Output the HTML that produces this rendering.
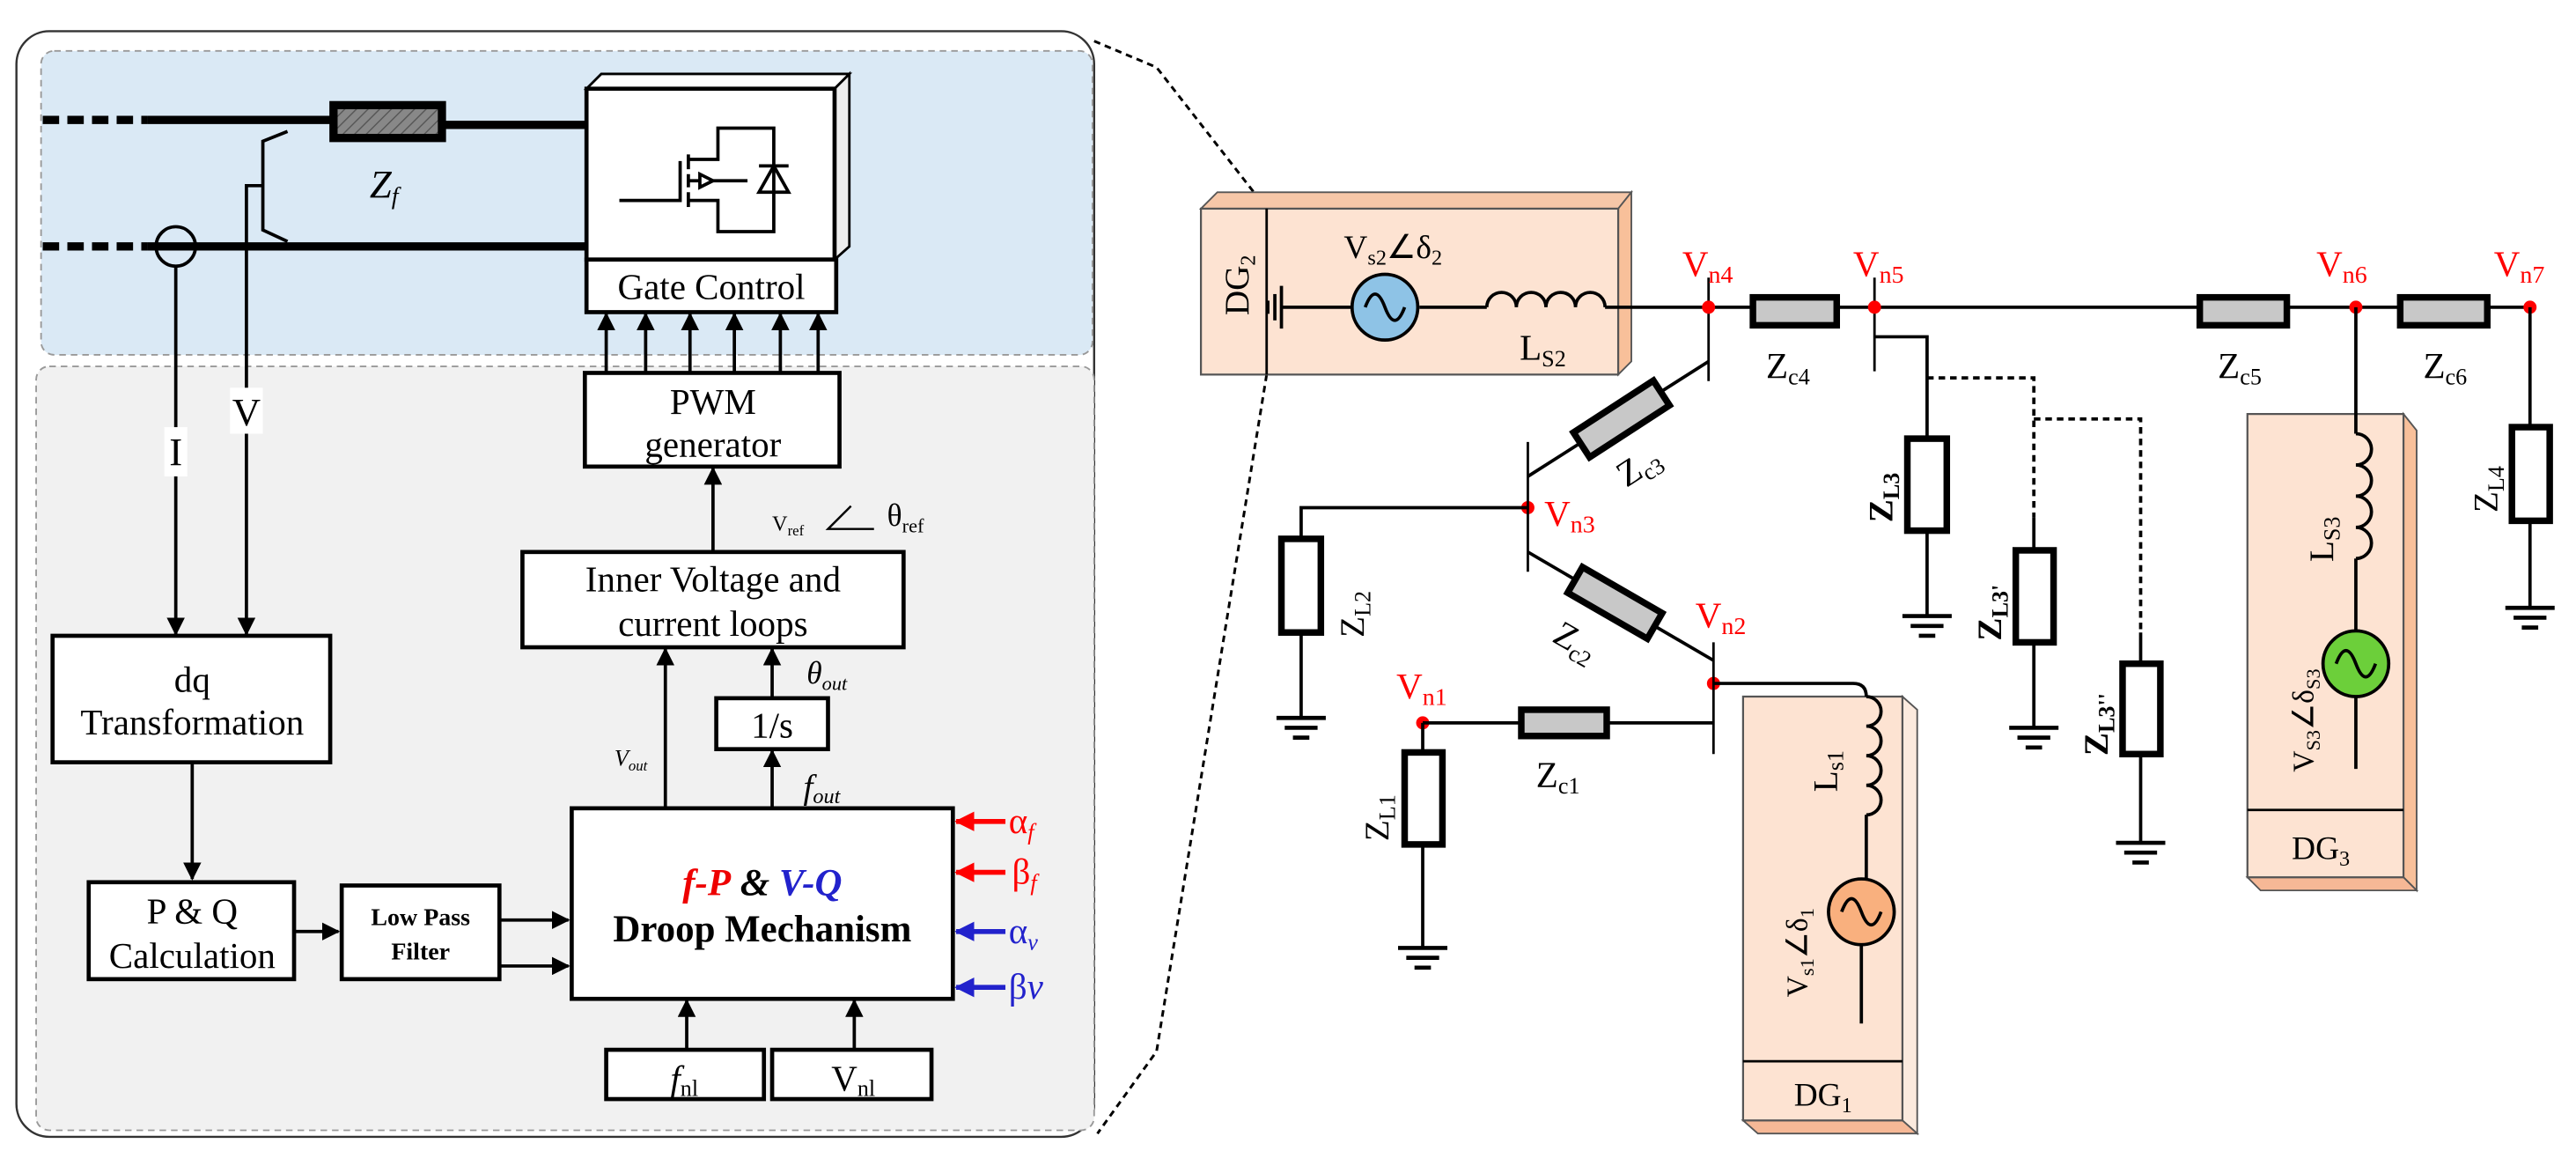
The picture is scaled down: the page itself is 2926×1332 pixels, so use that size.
<!DOCTYPE html>
<html><head><meta charset="utf-8"><style>
html,body{margin:0;padding:0;background:#fff}
svg{display:block}
text{font-family:"Liberation Serif",serif}
</style></head><body>
<svg width="2926" height="1332" viewBox="0 0 1568 714" preserveAspectRatio="none" xmlns="http://www.w3.org/2000/svg" font-family="Liberation Serif, serif">
<defs>
<marker id="ah" markerWidth="11" markerHeight="11" refX="10" refY="5.5" orient="auto" markerUnits="userSpaceOnUse"><path d="M0,0 L11,5.5 L0,11 z" fill="#000"/></marker>
<marker id="ar" markerWidth="12" markerHeight="12" refX="11" refY="6" orient="auto" markerUnits="userSpaceOnUse"><path d="M0,0 L12,6 L0,12 z" fill="#f00"/></marker>
<marker id="ab" markerWidth="12" markerHeight="12" refX="11" refY="6" orient="auto" markerUnits="userSpaceOnUse"><path d="M0,0 L12,6 L0,12 z" fill="#22c"/></marker>
<pattern id="hatch" width="5" height="5" patternUnits="userSpaceOnUse" patternTransform="rotate(45)"><rect width="5" height="5" fill="#888"/><line x1="0" y1="0" x2="0" y2="5" stroke="#555" stroke-width="1.5"/></pattern>
</defs>

<!-- LEFT PANEL -->
<rect x="10" y="19" width="656" height="673" rx="20" fill="#fff" stroke="#333" stroke-width="1.3"/>
<rect x="25" y="31" width="640" height="185" rx="8" fill="#dae9f5" stroke="#999" stroke-dasharray="4,3"/>
<rect x="22" y="223" width="644" height="465" rx="8" fill="#f1f1f1" stroke="#999" stroke-dasharray="4,3"/>

<g stroke="#000" stroke-width="5" fill="none">
<line x1="26" y1="73" x2="90" y2="73" stroke-dasharray="10,5"/>
<line x1="90" y1="73" x2="203" y2="73"/>
<line x1="270" y1="76" x2="357" y2="76"/>
<line x1="26" y1="150" x2="90" y2="150" stroke-dasharray="10,5"/>
<line x1="90" y1="150" x2="357" y2="150"/>
</g>
<rect x="203" y="64" width="66" height="20" fill="url(#hatch)" stroke="#000" stroke-width="5"/>
<text x="225" y="120" font-size="24" font-style="italic">Z<tspan font-size="15" dy="4">f</tspan></text>
<circle cx="107" cy="150" r="12" fill="none" stroke="#000" stroke-width="2"/>
<polyline points="175,80 160,86 160,140 175,147" fill="none" stroke="#000" stroke-width="2"/>
<polyline points="160,113 150,113 150,386" fill="none" stroke="#000" stroke-width="2" marker-end="url(#ah)"/>
<line x1="107" y1="162" x2="107" y2="386" stroke="#000" stroke-width="2" marker-end="url(#ah)"/>
<rect x="140" y="236" width="20" height="28" fill="#fff"/>
<text x="150" y="259" font-size="24" text-anchor="middle">V</text>
<rect x="100" y="260" width="14" height="30" fill="#fff"/>
<text x="107" y="283" font-size="24" text-anchor="middle">I</text>

<polygon points="357,54 366,45 517,45 508,54" fill="#fff" stroke="#000" stroke-width="1.5"/>
<polygon points="508,54 517,45 517,150 508,158" fill="#eee" stroke="#000" stroke-width="1.5"/>
<rect x="357" y="54" width="151" height="104" fill="#fff" stroke="#000" stroke-width="2.5"/>
<g stroke="#000" stroke-width="2" fill="none">
<polyline points="377,122 414,122 414,98"/>
<line x1="419" y1="94" x2="419" y2="103"/>
<line x1="419" y1="106" x2="419" y2="114"/>
<line x1="419" y1="117" x2="419" y2="126"/>
<polyline points="419,97 437,97 437,78 471,78 471,141 437,141 437,122 419,122"/>
<line x1="419" y1="110" x2="455" y2="110"/>
<polygon points="426,106 434,110 426,114" fill="#fff"/>
<line x1="462" y1="101" x2="480" y2="101"/>
<polygon points="471,101 462,117 480,117"/>
</g>
<rect x="357" y="158" width="152" height="32" fill="#fff" stroke="#000" stroke-width="2.5"/>
<text x="433" y="182" font-size="22" text-anchor="middle">Gate Control</text>

<g stroke="#000" stroke-width="2" marker-end="url(#ah)">
<line x1="369" y1="227" x2="369" y2="191"/>
<line x1="393" y1="227" x2="393" y2="191"/>
<line x1="420" y1="227" x2="420" y2="191"/>
<line x1="447" y1="227" x2="447" y2="191"/>
<line x1="475" y1="227" x2="475" y2="191"/>
<line x1="498" y1="227" x2="498" y2="191"/>
</g>
<rect x="356" y="227" width="155" height="57" fill="#fff" stroke="#000" stroke-width="2.5"/>
<text x="434" y="252" font-size="22" text-anchor="middle">PWM</text>
<text x="434" y="278" font-size="22" text-anchor="middle">generator</text>

<line x1="434" y1="336" x2="434" y2="285" stroke="#000" stroke-width="2" marker-end="url(#ah)"/>
<text x="470" y="323" font-size="13">V<tspan font-size="9" dy="3">ref</tspan></text>
<polyline points="518,308 504,322 532,322" fill="none" stroke="#000" stroke-width="1.3"/>
<text x="540" y="320" font-size="19">θ<tspan font-size="12" dy="4">ref</tspan></text>

<rect x="318" y="336" width="232" height="58" fill="#fff" stroke="#000" stroke-width="2.5"/>
<text x="434" y="360" font-size="22" text-anchor="middle">Inner Voltage and</text>
<text x="434" y="387" font-size="22" text-anchor="middle">current loops</text>

<line x1="405" y1="492" x2="405" y2="395" stroke="#000" stroke-width="2" marker-end="url(#ah)"/>
<text x="374" y="466" font-size="14" font-style="italic">V<tspan font-size="9" dy="3">out</tspan></text>
<line x1="470" y1="425" x2="470" y2="395" stroke="#000" stroke-width="2" marker-end="url(#ah)"/>
<text x="491" y="416" font-size="19" font-style="italic">θ<tspan font-size="12" dy="4">out</tspan></text>
<rect x="436" y="425" width="68" height="31" fill="#fff" stroke="#000" stroke-width="2.5"/>
<text x="470" y="449" font-size="22" text-anchor="middle">1/s</text>
<line x1="470" y1="492" x2="470" y2="457" stroke="#000" stroke-width="2" marker-end="url(#ah)"/>
<text x="489" y="486" font-size="21" font-style="italic">f<tspan font-size="13" dy="3">out</tspan></text>

<rect x="348" y="492" width="232" height="116" fill="#fff" stroke="#000" stroke-width="2.5"/>
<text x="464" y="545" font-size="23" font-weight="bold" font-style="italic" text-anchor="middle"><tspan fill="#e00">f-P</tspan> <tspan fill="#000">&amp;</tspan> <tspan fill="#22c">V-Q</tspan></text>
<text x="464" y="573" font-size="23" font-weight="bold" text-anchor="middle">Droop Mechanism</text>

<line x1="612" y1="500" x2="582" y2="500" stroke="#f00" stroke-width="3" marker-end="url(#ar)"/>
<text x="614" y="507" font-size="22" fill="#f00">α<tspan font-size="14" dy="4" font-style="italic">f</tspan></text>
<line x1="612" y1="531" x2="582" y2="531" stroke="#f00" stroke-width="3" marker-end="url(#ar)"/>
<text x="616" y="538" font-size="22" fill="#f00">β<tspan font-size="14" dy="4" font-style="italic">f</tspan></text>
<line x1="612" y1="567" x2="582" y2="567" stroke="#22c" stroke-width="3" marker-end="url(#ab)"/>
<text x="614" y="574" font-size="22" fill="#22c">α<tspan font-size="14" dy="4" font-style="italic">v</tspan></text>
<line x1="612" y1="601" x2="582" y2="601" stroke="#22c" stroke-width="3" marker-end="url(#ab)"/>
<text x="614" y="608" font-size="22" fill="#22c">β<tspan font-style="italic">v</tspan></text>

<line x1="418" y1="639" x2="418" y2="609" stroke="#000" stroke-width="2" marker-end="url(#ah)"/>
<line x1="520" y1="639" x2="520" y2="609" stroke="#000" stroke-width="2" marker-end="url(#ah)"/>
<rect x="369" y="639" width="96" height="30" fill="#fff" stroke="#000" stroke-width="2.5"/>
<text x="408" y="664" font-size="22" font-style="italic">f<tspan font-size="14" dy="3" font-style="normal">nl</tspan></text>
<rect x="470" y="639" width="97" height="30" fill="#fff" stroke="#000" stroke-width="2.5"/>
<text x="506" y="664" font-size="22">V<tspan font-size="14" dy="3">nl</tspan></text>

<rect x="208" y="539" width="96" height="57" fill="#fff" stroke="#000" stroke-width="2.5"/>
<text x="256" y="563" font-size="15" font-weight="bold" text-anchor="middle">Low Pass</text>
<text x="256" y="584" font-size="15" font-weight="bold" text-anchor="middle">Filter</text>
<line x1="304" y1="560" x2="346" y2="560" stroke="#000" stroke-width="2" marker-end="url(#ah)"/>
<line x1="304" y1="588" x2="346" y2="588" stroke="#000" stroke-width="2" marker-end="url(#ah)"/>

<rect x="54" y="537" width="125" height="59" fill="#fff" stroke="#000" stroke-width="2.5"/>
<text x="117" y="562" font-size="22" text-anchor="middle">P &amp; Q</text>
<text x="117" y="589" font-size="22" text-anchor="middle">Calculation</text>
<line x1="179" y1="567" x2="206" y2="567" stroke="#000" stroke-width="2" marker-end="url(#ah)"/>

<rect x="32" y="387" width="169" height="77" fill="#fff" stroke="#000" stroke-width="2.5"/>
<text x="117" y="421" font-size="22" text-anchor="middle">dq</text>
<text x="117" y="447" font-size="22" text-anchor="middle">Transformation</text>
<line x1="117" y1="464" x2="117" y2="535" stroke="#000" stroke-width="2" marker-end="url(#ah)"/>

<path d="M666,25 L704,41 L771,127" fill="none" stroke="#000" stroke-width="1.6" stroke-dasharray="4,3"/>
<path d="M771,228 L704,640 L668,690" fill="none" stroke="#000" stroke-width="1.6" stroke-dasharray="4,3"/>

<!-- DG2 -->
<polygon points="731,127 741,117 993,117 985,127" fill="#f6c7a8" stroke="#555" stroke-width="1"/>
<polygon points="985,127 993,117 993,220 985,228" fill="#f8c09a" stroke="#555" stroke-width="1"/>
<rect x="731" y="127" width="254" height="101" fill="#fde3d2" stroke="#555" stroke-width="1.2"/>
<line x1="771" y1="127" x2="771" y2="228" stroke="#000" stroke-width="1.5"/>
<text transform="translate(760,192) rotate(-90)" font-size="21">DG<tspan font-size="13" dy="4">2</tspan></text>
<g stroke="#000" stroke-width="2">
<line x1="780" y1="187" x2="823" y2="187"/>
<line x1="780" y1="174" x2="780" y2="200"/>
<line x1="776" y1="179" x2="776" y2="195"/>
<line x1="772" y1="183" x2="772" y2="191" stroke-width="1.5"/>
<line x1="864" y1="187" x2="905" y2="187"/>
</g>
<circle cx="843" cy="187" r="20" fill="#8ec3e6" stroke="#000" stroke-width="2"/>
<path d="M831,187 q6,-16 12,0 t12,0" fill="none" stroke="#000" stroke-width="2"/>
<text x="818" y="157" font-size="20">V<tspan font-size="13" dy="4">s2</tspan><tspan dy="-4">∠δ</tspan><tspan font-size="13" dy="4">2</tspan></text>
<path d="M905,187 a9,9 0 0 1 18,0 a9,9 0 0 1 18,0 a9,9 0 0 1 18,0 a9,9 0 0 1 18,0" fill="none" stroke="#000" stroke-width="2"/>
<text x="925" y="219" font-size="22">L<tspan font-size="14" dy="4">S2</tspan></text>

<line x1="977" y1="187" x2="1540" y2="187" stroke="#000" stroke-width="2"/>
<line x1="1040" y1="169" x2="1040" y2="232" stroke="#000" stroke-width="1.5"/>
<line x1="1141" y1="169" x2="1141" y2="226" stroke="#000" stroke-width="1.5"/>
<g fill="#c8c8c8" stroke="#000" stroke-width="4">
<rect x="1067" y="181" width="51" height="17"/>
<rect x="1339" y="181" width="53" height="17"/>
<rect x="1461" y="181" width="53" height="17"/>
</g>
<g fill="#f00">
<circle cx="1040" cy="187" r="4"/><circle cx="1141" cy="187" r="4"/><circle cx="1434" cy="187" r="4"/><circle cx="1540" cy="187" r="4"/>
<circle cx="930" cy="309" r="4"/><circle cx="1043" cy="416" r="4"/><circle cx="866" cy="440" r="4"/>
</g>
<g font-size="22" fill="#f00">
<text x="1024" y="168">V<tspan font-size="15" dy="4">n4</tspan></text>
<text x="1128" y="168">V<tspan font-size="15" dy="4">n5</tspan></text>
<text x="1410" y="168">V<tspan font-size="15" dy="4">n6</tspan></text>
<text x="1518" y="168">V<tspan font-size="15" dy="4">n7</tspan></text>
<text x="940" y="320">V<tspan font-size="15" dy="4">n3</tspan></text>
<text x="1032" y="382">V<tspan font-size="15" dy="4">n2</tspan></text>
<text x="850" y="425">V<tspan font-size="15" dy="4">n1</tspan></text>
</g>
<g font-size="22">
<text x="1075" y="230">Z<tspan font-size="14" dy="4">c4</tspan></text>
<text x="1350" y="230">Z<tspan font-size="14" dy="4">c5</tspan></text>
<text x="1475" y="230">Z<tspan font-size="14" dy="4">c6</tspan></text>
<text x="935" y="479">Z<tspan font-size="14" dy="4">c1</tspan></text>
</g>

<polyline points="1141,205 1173,205 1173,267" fill="none" stroke="#000" stroke-width="2"/>
<rect x="1161" y="267" width="24" height="56" fill="#fff" stroke="#000" stroke-width="4"/>
<line x1="1173" y1="323" x2="1173" y2="375" stroke="#000" stroke-width="2"/>
<text transform="translate(1152,318) rotate(-90)" font-size="21" font-weight="bold">Z<tspan font-size="14" dy="4">L3</tspan></text>
<polyline points="1173,230 1238,230 1238,315" fill="none" stroke="#000" stroke-width="2" stroke-dasharray="4,3"/>
<line x1="1238" y1="315" x2="1238" y2="335" stroke="#000" stroke-width="2"/>
<rect x="1227" y="335" width="23" height="56" fill="#fff" stroke="#000" stroke-width="4"/>
<line x1="1238" y1="391" x2="1238" y2="443" stroke="#000" stroke-width="2"/>
<text transform="translate(1218,390) rotate(-90)" font-size="21" font-weight="bold">Z<tspan font-size="14" dy="4">L3'</tspan></text>
<polyline points="1238,255 1303,255 1303,385" fill="none" stroke="#000" stroke-width="2" stroke-dasharray="4,3"/>
<line x1="1303" y1="385" x2="1303" y2="404" stroke="#000" stroke-width="2"/>
<rect x="1292" y="404" width="23" height="55" fill="#fff" stroke="#000" stroke-width="4"/>
<line x1="1303" y1="459" x2="1303" y2="513" stroke="#000" stroke-width="2"/>
<text transform="translate(1283,460) rotate(-90)" font-size="21" font-weight="bold">Z<tspan font-size="14" dy="4">L3''</tspan></text>

<g stroke="#000" stroke-width="2.5">
<path d="M1158,375 h30 M1163,381 h20 M1168,387 h10"/>
<path d="M1223,443 h30 M1228,449 h20 M1233,455 h10"/>
<path d="M1288,513 h30 M1293,519 h20 M1298,525 h10"/>
<path d="M1525,370 h30 M1530,376 h20 M1535,382 h10"/>
<path d="M777,437 h30 M782,443 h20 M787,449 h10"/>
<path d="M851,577 h30 M856,583 h20 M861,589 h10"/>
<path d="M1422,468 h24 M1426,473 h16 M1430,478 h8"/>
<path d="M1122,623 h24 M1126,628 h16 M1130,633 h8"/>
</g>

<line x1="1540" y1="187" x2="1540" y2="260" stroke="#000" stroke-width="2"/>
<rect x="1529" y="260" width="23" height="57" fill="#fff" stroke="#000" stroke-width="4"/>
<line x1="1540" y1="317" x2="1540" y2="370" stroke="#000" stroke-width="2"/>
<text transform="translate(1520,312) rotate(-90)" font-size="21">Z<tspan font-size="14" dy="4">L4</tspan></text>

<!-- DG3 -->
<polygon points="1463,252 1471,262 1471,542 1463,534" fill="#f8c09a" stroke="#555"/>
<polygon points="1368,534 1463,534 1471,542 1376,542" fill="#f6b896" stroke="#555"/>
<rect x="1368" y="252" width="95" height="282" fill="#fde3d2" stroke="#555" stroke-width="1.2"/>
<line x1="1368" y1="493" x2="1463" y2="493" stroke="#000" stroke-width="1.5"/>
<text x="1395" y="523" font-size="20">DG<tspan font-size="13" dy="4">3</tspan></text>
<line x1="1434" y1="187" x2="1434" y2="264" stroke="#000" stroke-width="2"/>
<path d="M1434,264 a9,9 0 0 1 0,19 a9,9 0 0 1 0,19 a9,9 0 0 1 0,19 a9,9 0 0 1 0,19" fill="none" stroke="#000" stroke-width="2"/>
<line x1="1434" y1="340" x2="1434" y2="384" stroke="#000" stroke-width="2"/>
<circle cx="1434" cy="404" r="20" fill="#6ccf3a" stroke="#000" stroke-width="2"/>
<path d="M1422,404 q6,-16 12,0 t12,0" fill="none" stroke="#000" stroke-width="2"/>
<line x1="1434" y1="424" x2="1434" y2="468" stroke="#000" stroke-width="2"/>
<text transform="translate(1420,342) rotate(-90)" font-size="21">L<tspan font-size="14" dy="4">S3</tspan></text>
<text transform="translate(1408,470) rotate(-90)" font-size="18">V<tspan font-size="12" dy="4">S3</tspan><tspan dy="-4">∠δ</tspan><tspan font-size="12" dy="4">S3</tspan></text>

<!-- Zc3, Zc2 -->
<line x1="930" y1="269" x2="930" y2="348" stroke="#000" stroke-width="1.5"/>
<line x1="930" y1="290" x2="1040" y2="220" stroke="#000" stroke-width="2"/>
<rect x="958" y="246" width="58" height="18" transform="rotate(-33 987 255)" fill="#c8c8c8" stroke="#000" stroke-width="4"/>
<text transform="translate(990,297) rotate(-33)" font-size="22">Z<tspan font-size="14" dy="4">c3</tspan></text>
<line x1="1043" y1="391" x2="1043" y2="459" stroke="#000" stroke-width="1.5"/>
<line x1="930" y1="336" x2="1043" y2="402" stroke="#000" stroke-width="2"/>
<rect x="955" y="358" width="56" height="18" transform="rotate(30 983 367)" fill="#c8c8c8" stroke="#000" stroke-width="4"/>
<text transform="translate(944,390) rotate(30)" font-size="22">Z<tspan font-size="14" dy="4">c2</tspan></text>

<polyline points="930,309 792,309 792,328" fill="none" stroke="#000" stroke-width="2"/>
<rect x="780" y="328" width="24" height="57" fill="#fff" stroke="#000" stroke-width="4"/>
<line x1="792" y1="385" x2="792" y2="437" stroke="#000" stroke-width="2"/>
<text transform="translate(830,388) rotate(-90)" font-size="21">Z<tspan font-size="14" dy="4">L2</tspan></text>

<line x1="866" y1="440" x2="1043" y2="440" stroke="#000" stroke-width="2"/>
<rect x="926" y="432" width="52" height="16" fill="#c8c8c8" stroke="#000" stroke-width="4"/>
<line x1="866" y1="440" x2="866" y2="458" stroke="#000" stroke-width="2"/>
<rect x="855" y="458" width="23" height="56" fill="#fff" stroke="#000" stroke-width="4"/>
<line x1="866" y1="514" x2="866" y2="577" stroke="#000" stroke-width="2"/>
<text transform="translate(845,512) rotate(-90)" font-size="21">Z<tspan font-size="14" dy="4">L1</tspan></text>

<!-- DG1 -->
<polygon points="1158,424 1167,432 1167,690 1158,682" fill="#fbeade" stroke="#555"/>
<polygon points="1061,682 1158,682 1167,690 1070,690" fill="#f6b896" stroke="#555"/>
<rect x="1061" y="424" width="97" height="258" fill="#fde3d2" stroke="#555" stroke-width="1.2"/>
<line x1="1061" y1="646" x2="1158" y2="646" stroke="#000" stroke-width="1.5"/>
<text x="1092" y="673" font-size="20">DG<tspan font-size="13" dy="4">1</tspan></text>
<path d="M1043,416 L1128,416 q8,0 8,8" fill="none" stroke="#000" stroke-width="2"/>
<path d="M1136,424 a9,9 0 0 1 0,18 a9,9 0 0 1 0,18 a9,9 0 0 1 0,18 a9,9 0 0 1 0,18" fill="none" stroke="#000" stroke-width="2"/>
<line x1="1136" y1="496" x2="1136" y2="535" stroke="#000" stroke-width="2"/>
<circle cx="1133" cy="555" r="20" fill="#f9b07e" stroke="#000" stroke-width="2"/>
<path d="M1121,555 q6,-16 12,0 t12,0" fill="none" stroke="#000" stroke-width="2"/>
<line x1="1133" y1="575" x2="1133" y2="623" stroke="#000" stroke-width="2"/>
<text transform="translate(1118,482) rotate(-90)" font-size="21">L<tspan font-size="14" dy="4">s1</tspan></text>
<text transform="translate(1100,607) rotate(-90)" font-size="18">V<tspan font-size="12" dy="4">s1</tspan><tspan dy="-4">∠δ</tspan><tspan font-size="12" dy="4">1</tspan></text>
</svg>
</body></html>
